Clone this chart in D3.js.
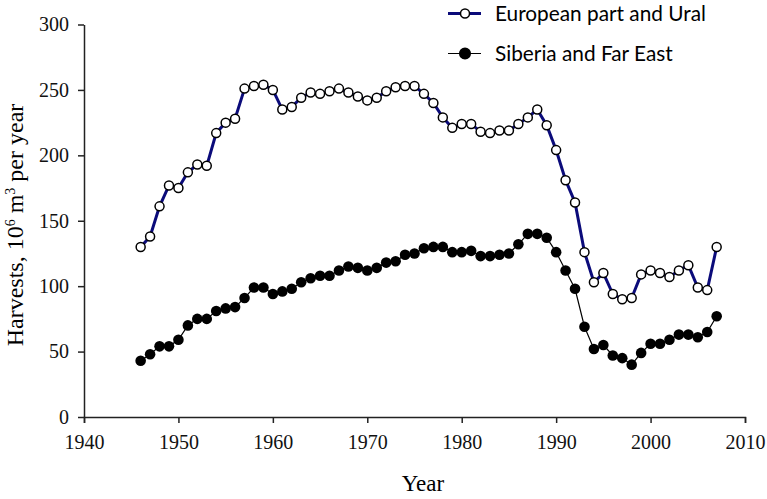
<!DOCTYPE html>
<html>
<head>
<meta charset="utf-8">
<script src="https://cdn.jsdelivr.net/npm/d3@7"></script>
<style>
  body { margin: 0; background: #fff; }
  .axis path, .axis line { stroke: #222; stroke-width: 1.5; }
</style>
</head>
<body>
<div id="chart"></div>
<script>
// years 1946..2007
var years = d3.range(1946, 2008);

// European part and Ural, 10^6 m3
var european = [130, 138, 161, 177, 175, 187, 193, 192, 217, 225,
                228, 251, 253, 254, 250, 235, 237, 244, 248, 247,
                249, 251, 248, 245, 242, 244, 249, 252, 253, 253,
                247, 240, 229, 221, 224, 224, 218, 217, 219, 219,
                224, 229, 235, 223, 204, 181, 164, 126, 103, 110,
                94, 90, 91, 109, 112, 110, 107, 112, 116, 99,
                97, 130];

// Siberia and Far East
var siberia = [43, 48, 54, 54, 59, 70, 75, 75, 81, 83,
               84, 91, 99, 99, 94, 96, 98, 103, 106, 108,
               108, 112, 115, 114, 112, 114, 118, 119, 124, 125,
               129, 130, 130, 126, 126, 127, 123, 123, 124, 125,
               132, 140, 140, 137, 126, 112, 98, 69, 52, 55,
               47, 45, 40, 49, 56, 56, 59, 63, 63, 61,
               65, 77];

var xTicks = [1940, 1950, 1960, 1970, 1980, 1990, 2000, 2010];
var yTicks = [0, 50, 100, 150, 200, 250, 300];

var serif = "'Liberation Serif', 'Times New Roman', serif";

var W = 767, H = 499;
var margin = {top: 24.5, right: 22, bottom: 82, left: 84};
var width = W - margin.left - margin.right,
    height = H - margin.top - margin.bottom;

var x = d3.scaleLinear().domain([1940, 2010]).range([0, width]);
var y = d3.scaleLinear().domain([0, 300]).range([height, 0]);

var svg = d3.select("#chart").append("svg")
    .attr("width", W)
    .attr("height", H);

var g = svg.append("g")
    .attr("transform", "translate(" + margin.left + "," + margin.top + ")");

g.append("g")
    .attr("class", "axis")
    .attr("transform", "translate(0," + height + ")")
    .call(d3.axisBottom(x).tickValues(xTicks).tickFormat(d3.format("d")).tickSize(6).tickSizeOuter(6).tickPadding(12));

g.append("g")
    .attr("class", "axis")
    .call(d3.axisLeft(y).tickValues(yTicks).tickSize(6).tickSizeOuter(0).tickPadding(9));

g.selectAll(".axis")
    .attr("font-family", serif)
    .attr("font-size", 20);
g.selectAll(".axis text").attr("fill", "#111");

var eu = years.map(function(d, i) { return {year: d, v: european[i]}; });
var si = years.map(function(d, i) { return {year: d, v: siberia[i]}; });

var line = d3.line()
    .x(function(d) { return x(d.year); })
    .y(function(d) { return y(d.v); });

// Siberia series
g.append("path")
    .datum(si)
    .attr("fill", "none")
    .attr("stroke", "#000")
    .attr("stroke-width", 1.2)
    .attr("d", line);

g.selectAll("circle.si")
    .data(si)
    .enter().append("circle")
    .attr("class", "si")
    .attr("cx", function(d) { return x(d.year); })
    .attr("cy", function(d) { return y(d.v); })
    .attr("r", 5.3)
    .attr("fill", "#000");

// European series
g.append("path")
    .datum(eu)
    .attr("fill", "none")
    .attr("stroke", "#0b0b7a")
    .attr("stroke-width", 3)
    .attr("d", line);

g.selectAll("circle.eu")
    .data(eu)
    .enter().append("circle")
    .attr("class", "eu")
    .attr("cx", function(d) { return x(d.year); })
    .attr("cy", function(d) { return y(d.v); })
    .attr("r", 4.5)
    .attr("fill", "#fff")
    .attr("stroke", "#000")
    .attr("stroke-width", 1.5);

// axis titles
svg.append("text")
    .attr("x", 423)
    .attr("y", 491)
    .attr("text-anchor", "middle")
    .attr("font-family", serif)
    .attr("font-size", 23)
    .text("Year");

var yt = svg.append("text")
    .attr("transform", "translate(23,225) rotate(-90)")
    .attr("text-anchor", "middle")
    .attr("font-family", serif)
    .attr("font-size", 24);
yt.append("tspan").text("Harvests, 10");
yt.append("tspan").attr("dy", -8).attr("font-size", 14).text("6");
yt.append("tspan").attr("dy", 8).text(" m");
yt.append("tspan").attr("dy", -8).attr("font-size", 14).text("3");
yt.append("tspan").attr("dy", 8).text(" per year");

// legend
var legend = [
  {name: "European part and Ural", color: "#0b0b7a", lw: 3, fill: "#fff", r: 4.5},
  {name: "Siberia and Far East", color: "#000", lw: 1.2, fill: "#000", r: 5.3}
];
var lg = svg.selectAll("g.legend")
    .data(legend)
    .enter().append("g")
    .attr("class", "legend")
    .attr("transform", function(d, i) { return "translate(448," + (13.5 + i * 40) + ")"; });
lg.append("line")
    .attr("x1", 0).attr("x2", 33)
    .attr("stroke", function(d) { return d.color; })
    .attr("stroke-width", function(d) { return d.lw; });
lg.append("circle")
    .attr("cx", 17).attr("r", function(d) { return d.r; })
    .attr("fill", function(d) { return d.fill; })
    .attr("stroke", "#000")
    .attr("stroke-width", 1.5);
lg.append("text")
    .attr("x", 47)
    .attr("y", 7.5)
    .attr("font-family", "Lato, sans-serif")
    .attr("font-size", 20.8)
    .text(function(d) { return d.name; });
</script>
</body>
</html>
